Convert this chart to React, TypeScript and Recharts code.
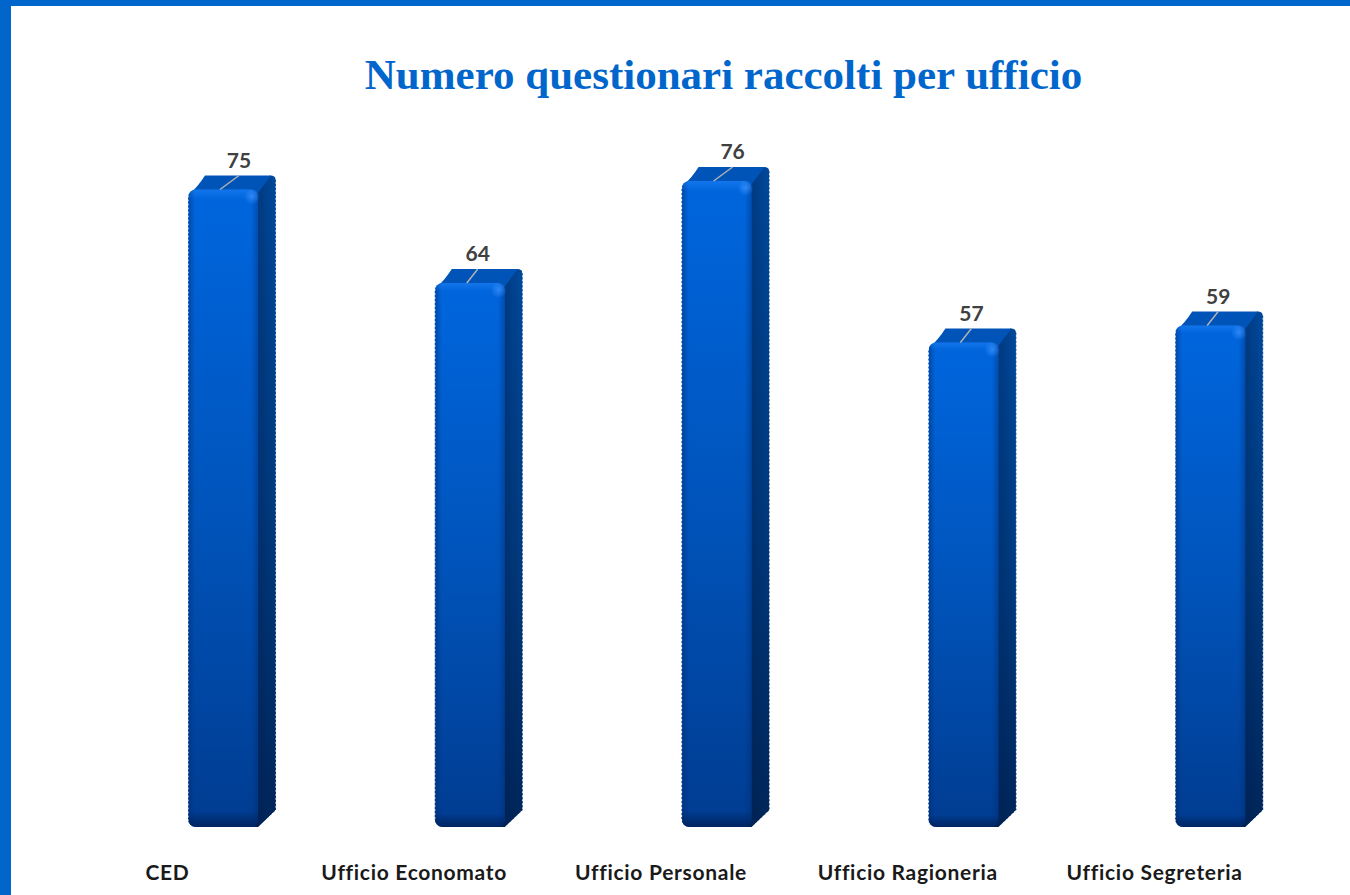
import { BarChart, Bar, XAxis, YAxis, LabelList } from "recharts";

const categories = [
  "CED",
  "Ufficio Economato",
  "Ufficio Personale",
  "Ufficio Ragioneria",
  "Ufficio Segreteria",
];
const questionari = [75, 64, 76, 57, 59];

const chartData = categories.map((name, i) => ({ name, questionari: questionari[i] }));

const DEPTH_X = 18;
const DEPTH_Y = 15;

// front face + side + top, the extruded look of the original
const Bar3D = (props: any) => {
  const { x, y, width, height } = props;
  const right = x + width;
  const bottom = y + height;
  const side = `M${right - 8} ${y + 2} L${right + DEPTH_X - 6} ${y - DEPTH_Y + 1} Q${right + DEPTH_X} ${y - DEPTH_Y + 1} ${right + DEPTH_X} ${y - DEPTH_Y + 6} L${right + DEPTH_X} ${bottom - DEPTH_Y - 2} L${right} ${bottom} L${right - 8} ${bottom} Z`;
  const top = `M${x + 2} ${y + 4} Q${x + 10} ${y - 3} ${x + DEPTH_X - 1} ${y - DEPTH_Y + 1} L${right + DEPTH_X - 5} ${y - DEPTH_Y + 1} L${right - 2} ${y + 6} Z`;
  const edge = `M${x + DEPTH_X - 1} ${y - DEPTH_Y} L${right + DEPTH_X - 5} ${y - DEPTH_Y} Q${right + DEPTH_X} ${y - DEPTH_Y} ${right + DEPTH_X} ${y - DEPTH_Y + 6} L${right + DEPTH_X} ${bottom - DEPTH_Y - 2} L${right + 1} ${bottom}`;
  return (
    <g>
      <path d={side} fill="url(#sideFill)" />
      <path d={side} fill="url(#sideShade)" />
      <path d={top} fill="#0054b8" />
      <rect x={x} y={y} width={width} height={height} rx={8} fill="url(#frontFill)" />
      <rect x={x} y={y} width={width} height={height} rx={8} fill="url(#frontEdges)" />
      <rect x={x} y={y} width={width} height={height} rx={8} fill="url(#frontEnds)" />
      <circle cx={right - 6} cy={y + 7} r={8} fill="url(#cornerGlow)" />
      <path d={edge} fill="none" stroke="#ffffff" strokeWidth={1} strokeDasharray="2 2" />
      <path d={`M${x} ${y + 6} L${x} ${bottom - 6}`} stroke="#ffffff" strokeWidth={1} strokeDasharray="2 2" />
    </g>
  );
};

// the data labels sit further right on the two tallest bars
const ValueLabel = (props: any) => {
  const { x, y, value } = props;
  const labelX = value >= 70 ? x + 51 : x + 43;
  return (
    <g>
      <line x1={x + 32} y1={y} x2={labelX} y2={y - 14} stroke="#b5b5b5" strokeWidth={1.4} />
      <text
        x={labelX}
        y={y - 22}
        textAnchor="middle"
        fontFamily="Lato"
        fontWeight={700}
        fontSize={21}
        fill="#404040"
      >
        {value}
      </text>
    </g>
  );
};

export default function App() {
  return (
    <div
      style={{
        position: "absolute",
        left: 0,
        top: 0,
        width: 1350,
        height: 895,
        overflow: "hidden",
        background: "#ffffff",
      }}
    >
      <div style={{ position: "absolute", left: 0, top: 0, width: 1350, height: 6, background: "#0066cc" }} />
      <div style={{ position: "absolute", left: 0, top: 0, width: 11, height: 895, background: "#0066cc" }} />
      <div
        style={{
          position: "absolute",
          left: 0,
          top: 50,
          width: 1447,
          textAlign: "center",
          fontFamily: "Liberation Serif",
          fontWeight: 700,
          fontSize: 43,
          color: "#0066cc",
          whiteSpace: "nowrap",
        }}
      >
        Numero questionari raccolti per ufficio
      </div>
      <BarChart
        width={1350}
        height={895}
        data={chartData}
        margin={{ top: 147, right: 16, bottom: 0, left: 100 }}
        style={{ position: "absolute", left: 0, top: 0 }}
      >
        <defs>
          <linearGradient id="frontFill" x1="0" y1="0" x2="0" y2="1">
            <stop offset="0" stopColor="#0066de" />
            <stop offset="0.5" stopColor="#0054bb" />
            <stop offset="1" stopColor="#003c91" />
          </linearGradient>
          <linearGradient id="frontEdges" x1="0" y1="0" x2="1" y2="0">
            <stop offset="0" stopColor="#002a70" stopOpacity={0.5} />
            <stop offset="0.1" stopColor="#002a70" stopOpacity={0} />
            <stop offset="0.9" stopColor="#002a70" stopOpacity={0} />
            <stop offset="1" stopColor="#002a70" stopOpacity={0.4} />
          </linearGradient>
          <linearGradient id="frontEnds" x1="0" y1="0" x2="0" y2="1">
            <stop offset="0" stopColor="#2f8cff" stopOpacity={0.4} />
            <stop offset="0.015" stopColor="#2f8cff" stopOpacity={0} />
            <stop offset="0.975" stopColor="#001f55" stopOpacity={0} />
            <stop offset="1" stopColor="#001f55" stopOpacity={0.8} />
          </linearGradient>
          <linearGradient id="sideFill" x1="0" y1="0" x2="0" y2="1">
            <stop offset="0" stopColor="#004a9e" />
            <stop offset="0.5" stopColor="#003c82" />
            <stop offset="1" stopColor="#00265a" />
          </linearGradient>
          <linearGradient id="sideShade" x1="0" y1="0" x2="1" y2="0">
            <stop offset="0.3" stopColor="#001c4c" stopOpacity={0.35} />
            <stop offset="1" stopColor="#001c4c" stopOpacity={0} />
          </linearGradient>
          <radialGradient id="cornerGlow">
            <stop offset="0" stopColor="#3c93ff" stopOpacity={0.75} />
            <stop offset="1" stopColor="#3c93ff" stopOpacity={0} />
          </radialGradient>
        </defs>
        <XAxis
          dataKey="name"
          axisLine={false}
          tickLine={false}
          interval={0}
          height={68}
          tickMargin={32}
          tick={{
            dx: -56,
            fontFamily: "Lato",
            fontWeight: 700,
            fontSize: 21,
            fill: "#1a1a1a",
            letterSpacing: 0.7,
            style: { fontVariantLigatures: "none" },
          }}
        />
        <YAxis hide domain={[0, 80]} />
        <Bar dataKey="questionari" barSize={70} shape={<Bar3D />} isAnimationActive={false}>
          <LabelList dataKey="questionari" content={<ValueLabel />} />
        </Bar>
      </BarChart>
    </div>
  );
}
